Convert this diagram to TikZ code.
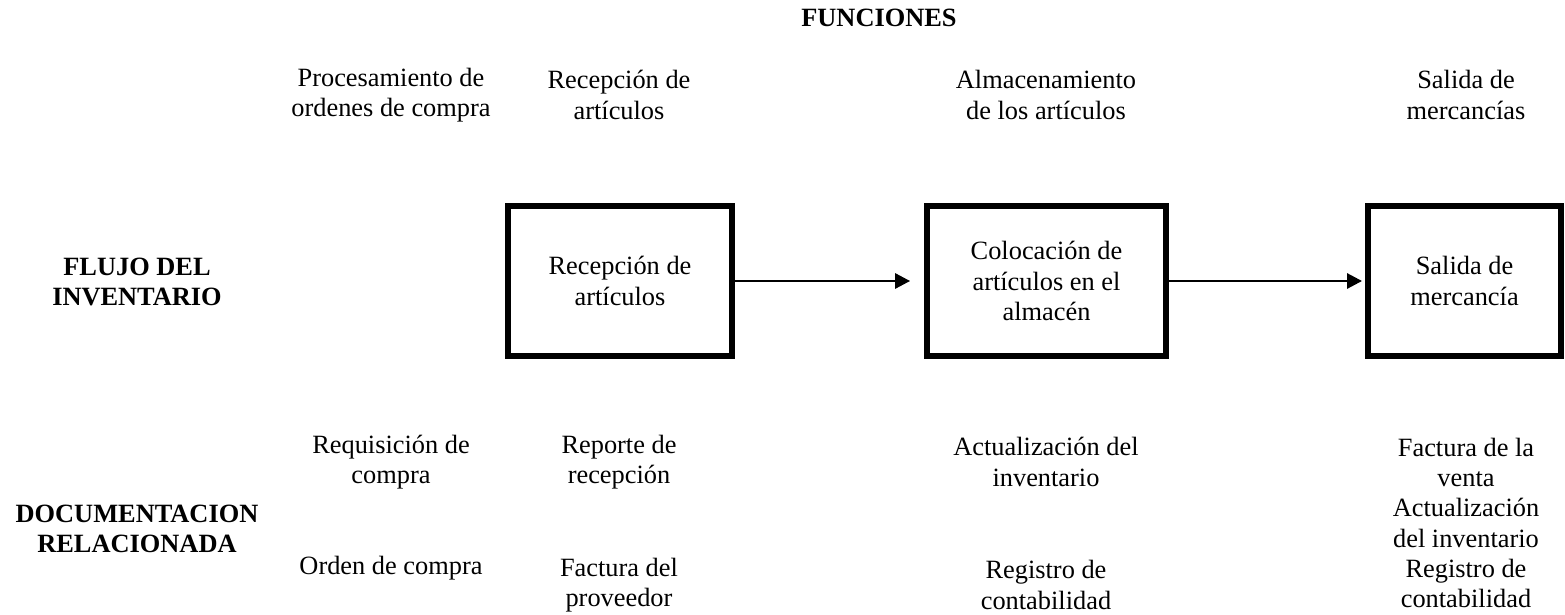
\documentclass[tikz,border=0pt]{standalone}
\usepackage{fontspec}
\setmainfont{Liberation Serif}
\usetikzlibrary{arrows.meta}
\begin{document}
\begin{tikzpicture}[x=0.455pt,y=-0.455pt,
    txt/.style={align=center,inner sep=0pt,font=\fontsize{12}{13.8}\selectfont},
    head/.style={align=center,inner sep=0pt,font=\fontsize{12}{13.8}\selectfont\bfseries},
    caja/.style={draw,line width=2.7pt,align=center,inner sep=0pt,
        font=\fontsize{12}{13.8}\selectfont,minimum height=68.25pt},
    flecha/.style={-{Triangle[length=6.8pt,width=7pt]},line width=0.8pt}]
    \useasboundingbox (0,0) rectangle (1565,615);
    % encabezados
    \node[head] (funciones) at (879,18) {FUNCIONES};
    \node[head] (flujo) at (137,282) {FLUJO DEL\\INVENTARIO};
    \node[head] (docu) at (137,529) {DOCUMENTACION\\RELACIONADA};
    % funciones
    \node[txt] (proceso) at (391,95) {Procesamiento de\\ordenes de compra};
    \node[txt] (recepcion) at (619,95) {Recepción de\\artículos};
    \node[txt] (almacen) at (1046,95) {Almacenamiento\\de los artículos};
    \node[txt] (salida) at (1466,95) {Salida de\\mercancías};
    % flujo
    \node[caja,minimum width=101.9pt] (caja1) at (620,281) {Recepción de\\artículos};
    \node[caja,minimum width=108.7pt] (caja2) at (1046.5,281) {Colocación de\\artículos en el\\almacén};
    \node[caja,minimum width=87.8pt] (caja3) at (1464.5,281) {Salida de\\mercancía};
    \draw[flecha,shorten >=6.4pt] (caja1.east) -- (caja2.west);
    \draw[flecha,shorten >=1.4pt] (caja2.east) -- (caja3.west);
    % documentacion
    \node[txt] (requisicion) at (391,462) {Requisición de\\compra};
    \node[txt] (orden) at (391,568) {Orden de compra};
    \node[txt] (reporte) at (619,462) {Reporte de\\recepción};
    \node[txt] (factprov) at (619,585) {Factura del\\proveedor};
    \node[txt] (actual) at (1046,462) {Actualización del\\inventario};
    \node[txt] (registro) at (1046,585) {Registro de\\contabilidad};
    \node[txt] (docsal) at (1466,523) {Factura de la\\venta\\Actualización\\del inventario\\Registro de\\contabilidad};
\end{tikzpicture}
\end{document}
